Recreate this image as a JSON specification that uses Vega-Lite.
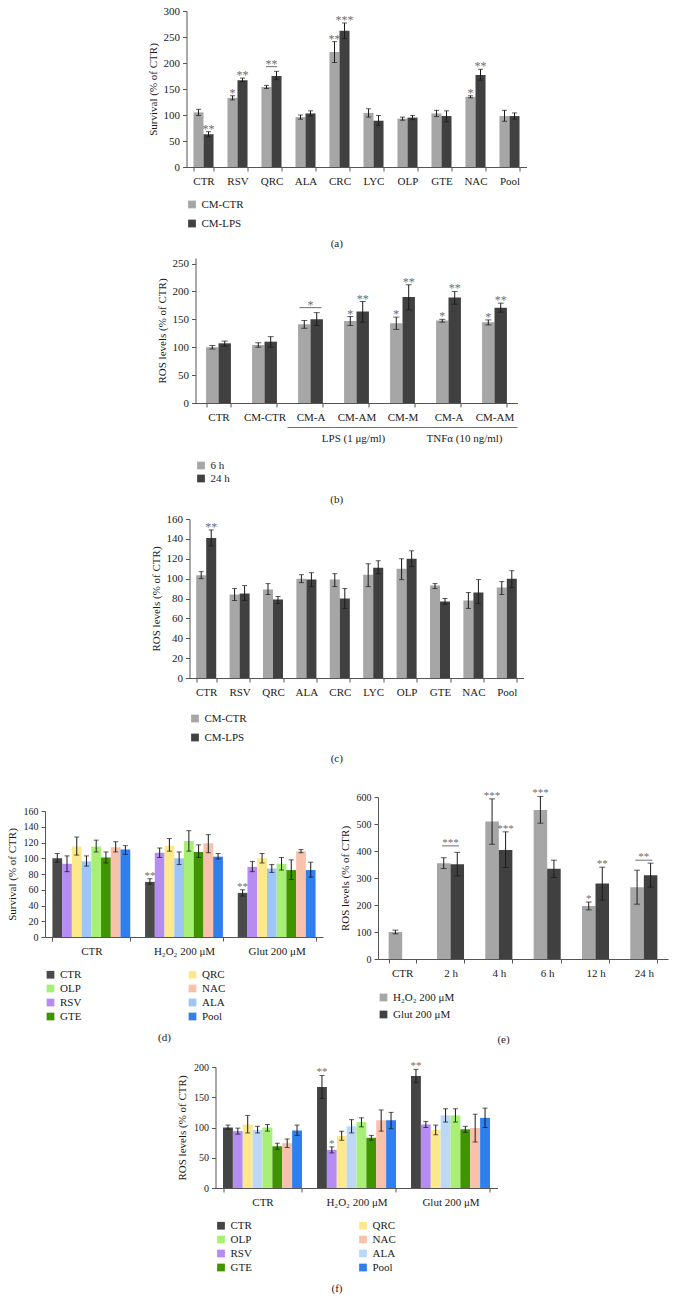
{
  "$schema": "https://vega.github.io/schema/vega-lite/v6.json",
  "background": "white",
  "padding": {"left": 6, "top": 5, "right": 2, "bottom": 2},
  "config": {
    "font": "Liberation Serif",
    "view": {"stroke": null},
    "axis": {"labelFont": "Liberation Serif", "titleFont": "Liberation Serif", "labelFontSize": 11, "titleFontSize": 11, "titleFontWeight": "normal", "labelColor": "#1a1a1a", "titleColor": "#1a1a1a", "domainColor": "#555555", "tickColor": "#555555", "grid": false, "tickSize": 4, "labelPadding": 3},
    "axisX": {"labelAngle": 0, "tickBand": "extent", "labelPadding": 4},
    "legend": {"labelFont": "Liberation Serif", "labelFontSize": 11, "labelColor": "#1a1a1a", "symbolType": "square", "symbolSize": 60, "symbolStrokeWidth": 0, "padding": 0},
    "title": {"font": "Liberation Serif", "fontSize": 11, "fontWeight": "normal", "color": "#1a1a1a", "orient": "bottom", "anchor": "middle", "frame": "bounds"}
  },
  "datasets": {
    "a": [
      {"g": "CTR", "s": "CM-CTR", "v": 105, "lo": 99, "hi": 111, "sig": ""},
      {"g": "CTR", "s": "CM-LPS", "v": 63, "lo": 58, "hi": 68, "sig": "**"},
      {"g": "RSV", "s": "CM-CTR", "v": 133, "lo": 129, "hi": 137, "sig": "*"},
      {"g": "RSV", "s": "CM-LPS", "v": 167, "lo": 164, "hi": 171, "sig": "**"},
      {"g": "QRC", "s": "CM-CTR", "v": 154, "lo": 151, "hi": 157, "sig": ""},
      {"g": "QRC", "s": "CM-LPS", "v": 175, "lo": 168, "hi": 184, "sig": ""},
      {"g": "ALA", "s": "CM-CTR", "v": 96, "lo": 92, "hi": 100, "sig": ""},
      {"g": "ALA", "s": "CM-LPS", "v": 103, "lo": 98, "hi": 108, "sig": ""},
      {"g": "CRC", "s": "CM-CTR", "v": 221, "lo": 201, "hi": 241, "sig": "**"},
      {"g": "CRC", "s": "CM-LPS", "v": 262, "lo": 247, "hi": 277, "sig": "***"},
      {"g": "LYC", "s": "CM-CTR", "v": 104, "lo": 96, "hi": 112, "sig": ""},
      {"g": "LYC", "s": "CM-LPS", "v": 89, "lo": 80, "hi": 99, "sig": ""},
      {"g": "OLP", "s": "CM-CTR", "v": 93, "lo": 90, "hi": 96, "sig": ""},
      {"g": "OLP", "s": "CM-LPS", "v": 95, "lo": 91, "hi": 99, "sig": ""},
      {"g": "GTE", "s": "CM-CTR", "v": 103, "lo": 97, "hi": 109, "sig": ""},
      {"g": "GTE", "s": "CM-LPS", "v": 98, "lo": 87, "hi": 108, "sig": ""},
      {"g": "NAC", "s": "CM-CTR", "v": 135, "lo": 133, "hi": 137, "sig": "*"},
      {"g": "NAC", "s": "CM-LPS", "v": 177, "lo": 167, "hi": 188, "sig": "**"},
      {"g": "Pool", "s": "CM-CTR", "v": 98, "lo": 88, "hi": 109, "sig": ""},
      {"g": "Pool", "s": "CM-LPS", "v": 98, "lo": 92, "hi": 104, "sig": ""}
    ],
    "a_lines": [{"g": "QRC", "ly": 193, "sig": "**"}],
    "b": [
      {"g": "CTR", "s": "6 h", "v": 100, "lo": 97, "hi": 103, "sig": ""},
      {"g": "CTR", "s": "24 h", "v": 107, "lo": 102, "hi": 111, "sig": ""},
      {"g": "CM-CTR", "s": "6 h", "v": 104, "lo": 100, "hi": 108, "sig": ""},
      {"g": "CM-CTR", "s": "24 h", "v": 110, "lo": 100, "hi": 119, "sig": ""},
      {"g": "CM-A|1", "s": "6 h", "v": 141, "lo": 134, "hi": 148, "sig": ""},
      {"g": "CM-A|1", "s": "24 h", "v": 150, "lo": 139, "hi": 162, "sig": ""},
      {"g": "CM-AM|1", "s": "6 h", "v": 147, "lo": 139, "hi": 155, "sig": "*"},
      {"g": "CM-AM|1", "s": "24 h", "v": 164, "lo": 145, "hi": 182, "sig": "**"},
      {"g": "CM-M|1", "s": "6 h", "v": 143, "lo": 132, "hi": 154, "sig": "*"},
      {"g": "CM-M|1", "s": "24 h", "v": 190, "lo": 167, "hi": 212, "sig": "**"},
      {"g": "CM-A|2", "s": "6 h", "v": 148, "lo": 145, "hi": 150, "sig": "*"},
      {"g": "CM-A|2", "s": "24 h", "v": 189, "lo": 177, "hi": 200, "sig": "**"},
      {"g": "CM-AM|2", "s": "6 h", "v": 145, "lo": 140, "hi": 149, "sig": "*"},
      {"g": "CM-AM|2", "s": "24 h", "v": 171, "lo": 163, "hi": 179, "sig": "**"}
    ],
    "b_lines": [{"g": "CM-A|1", "ly": 171, "sig": "*"}],
    "b_grp": [{"g": "CM-A|1"}, {"g": "CM-AM|1"}, {"g": "CM-M|1"}, {"g": "CM-A|2"}, {"g": "CM-AM|2"}],
    "b_lab": [{"g": "CM-AM|1", "lab": "LPS (1 μg/ml)"}, {"g": "CM-A|2", "lab": "TNFα (10 ng/ml)"}],
    "c": [
      {"g": "CTR", "s": "CM-CTR", "v": 103.5, "lo": 100, "hi": 107, "sig": ""},
      {"g": "CTR", "s": "CM-LPS", "v": 141, "lo": 133, "hi": 149, "sig": "**"},
      {"g": "RSV", "s": "CM-CTR", "v": 84, "lo": 78, "hi": 90, "sig": ""},
      {"g": "RSV", "s": "CM-LPS", "v": 85, "lo": 78, "hi": 93, "sig": ""},
      {"g": "QRC", "s": "CM-CTR", "v": 89, "lo": 84, "hi": 95, "sig": ""},
      {"g": "QRC", "s": "CM-LPS", "v": 79, "lo": 75, "hi": 82, "sig": ""},
      {"g": "ALA", "s": "CM-CTR", "v": 100, "lo": 96, "hi": 104, "sig": ""},
      {"g": "ALA", "s": "CM-LPS", "v": 99, "lo": 92, "hi": 106, "sig": ""},
      {"g": "CRC", "s": "CM-CTR", "v": 99, "lo": 92, "hi": 105, "sig": ""},
      {"g": "CRC", "s": "CM-LPS", "v": 80, "lo": 70, "hi": 90, "sig": ""},
      {"g": "LYC", "s": "CM-CTR", "v": 104, "lo": 92, "hi": 115, "sig": ""},
      {"g": "LYC", "s": "CM-LPS", "v": 111, "lo": 105, "hi": 118, "sig": ""},
      {"g": "OLP", "s": "CM-CTR", "v": 110, "lo": 99, "hi": 120, "sig": ""},
      {"g": "OLP", "s": "CM-LPS", "v": 120, "lo": 112, "hi": 128, "sig": ""},
      {"g": "GTE", "s": "CM-CTR", "v": 93, "lo": 90, "hi": 95, "sig": ""},
      {"g": "GTE", "s": "CM-LPS", "v": 77, "lo": 74, "hi": 80, "sig": ""},
      {"g": "NAC", "s": "CM-CTR", "v": 78, "lo": 70, "hi": 86, "sig": ""},
      {"g": "NAC", "s": "CM-LPS", "v": 86, "lo": 75, "hi": 99, "sig": ""},
      {"g": "Pool", "s": "CM-CTR", "v": 91, "lo": 84, "hi": 97, "sig": ""},
      {"g": "Pool", "s": "CM-LPS", "v": 100, "lo": 91, "hi": 108, "sig": ""}
    ],
    "d": [
      {"g": "CTR", "s": "CTR", "v": 100, "lo": 95, "hi": 106, "sig": ""},
      {"g": "CTR", "s": "RSV", "v": 93, "lo": 83, "hi": 103, "sig": ""},
      {"g": "CTR", "s": "QRC", "v": 115, "lo": 104, "hi": 127, "sig": ""},
      {"g": "CTR", "s": "ALA", "v": 96, "lo": 90, "hi": 103, "sig": ""},
      {"g": "CTR", "s": "OLP", "v": 115, "lo": 108, "hi": 123, "sig": ""},
      {"g": "CTR", "s": "GTE", "v": 101, "lo": 94, "hi": 108, "sig": ""},
      {"g": "CTR", "s": "NAC", "v": 114, "lo": 108, "hi": 121, "sig": ""},
      {"g": "CTR", "s": "Pool", "v": 111, "lo": 105, "hi": 116, "sig": ""},
      {"g": "H₂O₂ 200 μM", "s": "CTR", "v": 70, "lo": 67, "hi": 74, "sig": "**"},
      {"g": "H₂O₂ 200 μM", "s": "RSV", "v": 107, "lo": 101, "hi": 113, "sig": ""},
      {"g": "H₂O₂ 200 μM", "s": "QRC", "v": 116, "lo": 109, "hi": 125, "sig": ""},
      {"g": "H₂O₂ 200 μM", "s": "ALA", "v": 100, "lo": 92, "hi": 108, "sig": ""},
      {"g": "H₂O₂ 200 μM", "s": "OLP", "v": 122, "lo": 109, "hi": 135, "sig": ""},
      {"g": "H₂O₂ 200 μM", "s": "GTE", "v": 108, "lo": 101, "hi": 117, "sig": ""},
      {"g": "H₂O₂ 200 μM", "s": "NAC", "v": 119, "lo": 107, "hi": 130, "sig": ""},
      {"g": "H₂O₂ 200 μM", "s": "Pool", "v": 102, "lo": 99, "hi": 106, "sig": ""},
      {"g": "Glut 200 μM", "s": "CTR", "v": 56, "lo": 52, "hi": 60, "sig": "**"},
      {"g": "Glut 200 μM", "s": "RSV", "v": 89, "lo": 83, "hi": 96, "sig": ""},
      {"g": "Glut 200 μM", "s": "QRC", "v": 100, "lo": 94, "hi": 106, "sig": ""},
      {"g": "Glut 200 μM", "s": "ALA", "v": 87, "lo": 82, "hi": 92, "sig": ""},
      {"g": "Glut 200 μM", "s": "OLP", "v": 93, "lo": 85, "hi": 101, "sig": ""},
      {"g": "Glut 200 μM", "s": "GTE", "v": 85, "lo": 73, "hi": 98, "sig": ""},
      {"g": "Glut 200 μM", "s": "NAC", "v": 109, "lo": 107, "hi": 111, "sig": ""},
      {"g": "Glut 200 μM", "s": "Pool", "v": 85, "lo": 76, "hi": 95, "sig": ""}
    ],
    "e": [
      {"g": "CTR", "s": "H₂O₂ 200 μM", "v": 100, "lo": 93, "hi": 107, "sig": ""},
      {"g": "2 h", "s": "H₂O₂ 200 μM", "v": 355, "lo": 335, "hi": 375, "sig": ""},
      {"g": "2 h", "s": "Glut 200 μM", "v": 351, "lo": 308, "hi": 395, "sig": ""},
      {"g": "4 h", "s": "H₂O₂ 200 μM", "v": 509, "lo": 425, "hi": 593, "sig": "***"},
      {"g": "4 h", "s": "Glut 200 μM", "v": 404, "lo": 339, "hi": 471, "sig": "***"},
      {"g": "6 h", "s": "H₂O₂ 200 μM", "v": 552, "lo": 503, "hi": 602, "sig": "***"},
      {"g": "6 h", "s": "Glut 200 μM", "v": 334, "lo": 302, "hi": 366, "sig": ""},
      {"g": "12 h", "s": "H₂O₂ 200 μM", "v": 196, "lo": 182, "hi": 211, "sig": "*"},
      {"g": "12 h", "s": "Glut 200 μM", "v": 280, "lo": 218, "hi": 340, "sig": "**"},
      {"g": "24 h", "s": "H₂O₂ 200 μM", "v": 266, "lo": 203, "hi": 329, "sig": ""},
      {"g": "24 h", "s": "Glut 200 μM", "v": 310, "lo": 266, "hi": 355, "sig": ""}
    ],
    "e_lines": [{"g": "2 h", "ly": 419, "sig": "***"}, {"g": "24 h", "ly": 366, "sig": "**"}],
    "f": [
      {"g": "CTR", "s": "CTR", "v": 100, "lo": 97, "hi": 104, "sig": ""},
      {"g": "CTR", "s": "RSV", "v": 94, "lo": 89, "hi": 99, "sig": ""},
      {"g": "CTR", "s": "QRC", "v": 105, "lo": 91, "hi": 120, "sig": ""},
      {"g": "CTR", "s": "ALA", "v": 96, "lo": 91, "hi": 102, "sig": ""},
      {"g": "CTR", "s": "OLP", "v": 100, "lo": 94, "hi": 105, "sig": ""},
      {"g": "CTR", "s": "GTE", "v": 69, "lo": 64, "hi": 74, "sig": ""},
      {"g": "CTR", "s": "NAC", "v": 74, "lo": 67, "hi": 81, "sig": ""},
      {"g": "CTR", "s": "Pool", "v": 95, "lo": 87, "hi": 104, "sig": ""},
      {"g": "H₂O₂ 200 μM", "s": "CTR", "v": 167, "lo": 148, "hi": 186, "sig": "**"},
      {"g": "H₂O₂ 200 μM", "s": "RSV", "v": 63, "lo": 58, "hi": 68, "sig": "*"},
      {"g": "H₂O₂ 200 μM", "s": "QRC", "v": 86, "lo": 79, "hi": 94, "sig": ""},
      {"g": "H₂O₂ 200 μM", "s": "ALA", "v": 102, "lo": 91, "hi": 113, "sig": ""},
      {"g": "H₂O₂ 200 μM", "s": "OLP", "v": 109, "lo": 101, "hi": 116, "sig": ""},
      {"g": "H₂O₂ 200 μM", "s": "GTE", "v": 83, "lo": 79, "hi": 87, "sig": ""},
      {"g": "H₂O₂ 200 μM", "s": "NAC", "v": 112, "lo": 94, "hi": 129, "sig": ""},
      {"g": "H₂O₂ 200 μM", "s": "Pool", "v": 112, "lo": 98, "hi": 125, "sig": ""},
      {"g": "Glut 200 μM", "s": "CTR", "v": 185, "lo": 174, "hi": 196, "sig": "**"},
      {"g": "Glut 200 μM", "s": "RSV", "v": 105, "lo": 100, "hi": 110, "sig": ""},
      {"g": "Glut 200 μM", "s": "QRC", "v": 96, "lo": 88, "hi": 104, "sig": ""},
      {"g": "Glut 200 μM", "s": "ALA", "v": 120, "lo": 109, "hi": 131, "sig": ""},
      {"g": "Glut 200 μM", "s": "OLP", "v": 120, "lo": 109, "hi": 131, "sig": ""},
      {"g": "Glut 200 μM", "s": "GTE", "v": 97, "lo": 92, "hi": 102, "sig": ""},
      {"g": "Glut 200 μM", "s": "NAC", "v": 99, "lo": 76, "hi": 122, "sig": ""},
      {"g": "Glut 200 μM", "s": "Pool", "v": 116, "lo": 100, "hi": 132, "sig": ""}
    ]
  },
  "resolve": {"scale": {"color": "independent", "xOffset": "independent"}},
  "vconcat": [
    {
      "resolve": {"scale": {"color": "independent", "xOffset": "independent"}},
      "vconcat": [
        {
          "resolve": {"scale": {"color": "independent", "xOffset": "independent"}},
          "vconcat": [
            {
              "width": 340, "height": 156,
              "title": {"text": "(a)", "offset": 9},
              "data": {"name": "a"},
              "layer": [
                {"mark": {"type": "bar"}, "encoding": {
                  "x": {"field": "g", "type": "nominal", "title": null, "scale": {"domain": ["CTR","RSV","QRC","ALA","CRC","LYC","OLP","GTE","NAC","Pool"], "paddingInner": 0.41, "paddingOuter": 0.205}},
                  "xOffset": {"field": "s", "type": "nominal", "scale": {"domain": ["CM-CTR","CM-LPS"], "paddingInner": 0, "paddingOuter": 0}},
                  "y": {"field": "v", "type": "quantitative", "title": "Survival (% of CTR)", "scale": {"domain": [0, 300]}, "axis": {"values": [0,50,100,150,200,250,300], "titlePadding": 5}},
                  "color": {"field": "s", "type": "nominal", "scale": {"domain": ["CM-CTR","CM-LPS"], "range": ["#a6a6a6","#404040"]}, "legend": {"title": null, "orient": "bottom", "direction": "vertical", "offset": 13, "rowPadding": 7}}
                }},
                {"mark": {"type": "rule", "color": "#1a1a1a"}, "encoding": {
                  "x": {"field": "g", "type": "nominal", "title": null},
                  "xOffset": {"field": "s", "type": "nominal"},
                  "y": {"field": "lo", "type": "quantitative", "title": "Survival (% of CTR)", "axis": {"values": [0,50,100,150,200,250,300], "titlePadding": 5}}, "y2": {"field": "hi"}
                }},
                {"mark": {"type": "tick", "color": "#1a1a1a", "size": 5, "thickness": 1}, "encoding": {
                  "x": {"field": "g", "type": "nominal", "title": null},
                  "xOffset": {"field": "s", "type": "nominal"},
                  "y": {"field": "lo", "type": "quantitative", "title": "Survival (% of CTR)", "axis": {"values": [0,50,100,150,200,250,300], "titlePadding": 5}}
                }},
                {"mark": {"type": "tick", "color": "#1a1a1a", "size": 5, "thickness": 1}, "encoding": {
                  "x": {"field": "g", "type": "nominal", "title": null},
                  "xOffset": {"field": "s", "type": "nominal"},
                  "y": {"field": "hi", "type": "quantitative", "title": "Survival (% of CTR)", "axis": {"values": [0,50,100,150,200,250,300], "titlePadding": 5}}
                }},
                {"mark": {"type": "text", "color": "#6e6e6e", "fontSize": 12, "baseline": "alphabetic", "dy": 1}, "encoding": {
                  "x": {"field": "g", "type": "nominal", "title": null},
                  "xOffset": {"field": "s", "type": "nominal"},
                  "y": {"field": "hi", "type": "quantitative", "title": "Survival (% of CTR)", "axis": {"values": [0,50,100,150,200,250,300], "titlePadding": 5}},
                  "text": {"field": "sig", "type": "nominal"}
                }},
                {"data": {"name": "a_lines"}, "mark": {"type": "tick", "color": "#333333", "size": 11, "thickness": 1}, "encoding": {
                  "x": {"field": "g", "type": "nominal", "title": null},
                  "y": {"field": "ly", "type": "quantitative", "title": "Survival (% of CTR)", "axis": {"values": [0,50,100,150,200,250,300], "titlePadding": 5}}
                }},
                {"data": {"name": "a_lines"}, "mark": {"type": "text", "color": "#6e6e6e", "fontSize": 12, "baseline": "alphabetic", "dy": 1}, "encoding": {
                  "x": {"field": "g", "type": "nominal", "title": null},
                  "y": {"field": "ly", "type": "quantitative", "title": "Survival (% of CTR)", "axis": {"values": [0,50,100,150,200,250,300], "titlePadding": 5}},
                  "text": {"field": "sig", "type": "nominal"}
                }}
              ]
            },
            {
              "width": 322, "height": 145,
              "title": {"text": "(b)", "offset": 10},
              "data": {"name": "b"},
              "layer": [
                {"mark": {"type": "bar"}, "encoding": {
                  "x": {"field": "g", "type": "nominal", "title": null, "scale": {"domain": ["CTR","CM-CTR","CM-A|1","CM-AM|1","CM-M|1","CM-A|2","CM-AM|2"], "paddingInner": 0.46, "paddingOuter": 0.23}, "axis": {"labelExpr": "split(datum.label, '|')[0]"}},
                  "xOffset": {"field": "s", "type": "nominal", "scale": {"domain": ["6 h","24 h"], "paddingInner": 0, "paddingOuter": 0}},
                  "y": {"field": "v", "type": "quantitative", "title": "ROS levels (% of CTR)", "scale": {"domain": [0, 250]}, "axis": {"values": [0,50,100,150,200,250], "titlePadding": 5}},
                  "color": {"field": "s", "type": "nominal", "scale": {"domain": ["6 h","24 h"], "range": ["#a6a6a6","#404040"]}, "legend": {"title": null, "orient": "bottom", "direction": "vertical", "offset": 38, "rowPadding": 1}}
                }},
                {"mark": {"type": "rule", "color": "#1a1a1a"}, "encoding": {
                  "x": {"field": "g", "type": "nominal", "title": null},
                  "xOffset": {"field": "s", "type": "nominal"},
                  "y": {"field": "lo", "type": "quantitative", "title": "ROS levels (% of CTR)", "axis": {"values": [0,50,100,150,200,250], "titlePadding": 5}}, "y2": {"field": "hi"}
                }},
                {"mark": {"type": "tick", "color": "#1a1a1a", "size": 6, "thickness": 1}, "encoding": {
                  "x": {"field": "g", "type": "nominal", "title": null},
                  "xOffset": {"field": "s", "type": "nominal"},
                  "y": {"field": "lo", "type": "quantitative", "title": "ROS levels (% of CTR)", "axis": {"values": [0,50,100,150,200,250], "titlePadding": 5}}
                }},
                {"mark": {"type": "tick", "color": "#1a1a1a", "size": 6, "thickness": 1}, "encoding": {
                  "x": {"field": "g", "type": "nominal", "title": null},
                  "xOffset": {"field": "s", "type": "nominal"},
                  "y": {"field": "hi", "type": "quantitative", "title": "ROS levels (% of CTR)", "axis": {"values": [0,50,100,150,200,250], "titlePadding": 5}}
                }},
                {"mark": {"type": "text", "color": "#6e6e6e", "fontSize": 12, "baseline": "alphabetic", "dy": 1}, "encoding": {
                  "x": {"field": "g", "type": "nominal", "title": null},
                  "xOffset": {"field": "s", "type": "nominal"},
                  "y": {"field": "hi", "type": "quantitative", "title": "ROS levels (% of CTR)", "axis": {"values": [0,50,100,150,200,250], "titlePadding": 5}},
                  "text": {"field": "sig", "type": "nominal"}
                }},
                {"data": {"name": "b_lines"}, "mark": {"type": "tick", "color": "#333333", "size": 22, "thickness": 1}, "encoding": {
                  "x": {"field": "g", "type": "nominal", "title": null},
                  "y": {"field": "ly", "type": "quantitative", "title": "ROS levels (% of CTR)", "axis": {"values": [0,50,100,150,200,250], "titlePadding": 5}}
                }},
                {"data": {"name": "b_lines"}, "mark": {"type": "text", "color": "#6e6e6e", "fontSize": 12, "baseline": "alphabetic", "dy": 1}, "encoding": {
                  "x": {"field": "g", "type": "nominal", "title": null},
                  "y": {"field": "ly", "type": "quantitative", "title": "ROS levels (% of CTR)", "axis": {"values": [0,50,100,150,200,250], "titlePadding": 5}},
                  "text": {"field": "sig", "type": "nominal"}
                }},
                {"data": {"name": "b_grp"}, "mark": {"type": "tick", "color": "#333333", "size": 46, "thickness": 1}, "encoding": {
                  "x": {"field": "g", "type": "nominal", "title": null},
                  "y": {"datum": -44, "title": "ROS levels (% of CTR)", "axis": {"values": [0,50,100,150,200,250], "titlePadding": 5}}
                }},
                {"data": {"name": "b_lab"}, "transform": [{"filter": "datum.g == 'CM-AM|1'"}], "mark": {"type": "text", "color": "#1a1a1a", "fontSize": 11, "baseline": "middle", "dx": -3}, "encoding": {
                  "x": {"field": "g", "type": "nominal", "title": null},
                  "y": {"datum": -64, "title": "ROS levels (% of CTR)", "axis": {"values": [0,50,100,150,200,250], "titlePadding": 5}},
                  "text": {"field": "lab", "type": "nominal"}
                }},
                {"data": {"name": "b_lab"}, "transform": [{"filter": "datum.g == 'CM-A|2'"}], "mark": {"type": "text", "color": "#1a1a1a", "fontSize": 11, "baseline": "middle", "dx": 16}, "encoding": {
                  "x": {"field": "g", "type": "nominal", "title": null},
                  "y": {"datum": -64, "title": "ROS levels (% of CTR)", "axis": {"values": [0,50,100,150,200,250], "titlePadding": 5}},
                  "text": {"field": "lab", "type": "nominal"}
                }}
              ]
            },
            {
              "width": 334, "height": 159,
              "title": {"text": "(c)", "offset": 10},
              "data": {"name": "c"},
              "layer": [
                {"mark": {"type": "bar"}, "encoding": {
                  "x": {"field": "g", "type": "nominal", "title": null, "scale": {"domain": ["CTR","RSV","QRC","ALA","CRC","LYC","OLP","GTE","NAC","Pool"], "paddingInner": 0.4, "paddingOuter": 0.2}},
                  "xOffset": {"field": "s", "type": "nominal", "scale": {"domain": ["CM-CTR","CM-LPS"], "paddingInner": 0, "paddingOuter": 0}},
                  "y": {"field": "v", "type": "quantitative", "title": "ROS levels (% of CTR)", "scale": {"domain": [0, 160]}, "axis": {"values": [0,20,40,60,80,100,120,140,160], "titlePadding": 5}},
                  "color": {"field": "s", "type": "nominal", "scale": {"domain": ["CM-CTR","CM-LPS"], "range": ["#a6a6a6","#404040"]}, "legend": {"title": null, "orient": "bottom", "direction": "vertical", "offset": 16, "rowPadding": 7}}
                }},
                {"mark": {"type": "rule", "color": "#1a1a1a"}, "encoding": {
                  "x": {"field": "g", "type": "nominal", "title": null},
                  "xOffset": {"field": "s", "type": "nominal"},
                  "y": {"field": "lo", "type": "quantitative", "title": "ROS levels (% of CTR)", "axis": {"values": [0,20,40,60,80,100,120,140,160], "titlePadding": 5}}, "y2": {"field": "hi"}
                }},
                {"mark": {"type": "tick", "color": "#1a1a1a", "size": 5, "thickness": 1}, "encoding": {
                  "x": {"field": "g", "type": "nominal", "title": null},
                  "xOffset": {"field": "s", "type": "nominal"},
                  "y": {"field": "lo", "type": "quantitative", "title": "ROS levels (% of CTR)", "axis": {"values": [0,20,40,60,80,100,120,140,160], "titlePadding": 5}}
                }},
                {"mark": {"type": "tick", "color": "#1a1a1a", "size": 5, "thickness": 1}, "encoding": {
                  "x": {"field": "g", "type": "nominal", "title": null},
                  "xOffset": {"field": "s", "type": "nominal"},
                  "y": {"field": "hi", "type": "quantitative", "title": "ROS levels (% of CTR)", "axis": {"values": [0,20,40,60,80,100,120,140,160], "titlePadding": 5}}
                }},
                {"mark": {"type": "text", "color": "#6e6e6e", "fontSize": 12, "baseline": "alphabetic", "dy": 1}, "encoding": {
                  "x": {"field": "g", "type": "nominal", "title": null},
                  "xOffset": {"field": "s", "type": "nominal"},
                  "y": {"field": "hi", "type": "quantitative", "title": "ROS levels (% of CTR)", "axis": {"values": [0,20,40,60,80,100,120,140,160], "titlePadding": 5}},
                  "text": {"field": "sig", "type": "nominal"}
                }}
              ]
            }
          ],
          "spacing": 8,
          "center": true
        },
        {
          "resolve": {"scale": {"color": "independent", "xOffset": "independent"}},
          "hconcat": [
            {
              "width": 278, "height": 140,
              "title": {"text": "(d)", "offset": 10},
              "data": {"name": "d"},
              "layer": [
                {"mark": {"type": "bar"}, "encoding": {
                  "x": {"field": "g", "type": "nominal", "title": null, "scale": {"domain": ["CTR","H₂O₂ 200 μM","Glut 200 μM"], "paddingInner": 0.16, "paddingOuter": 0.08}},
                  "xOffset": {"field": "s", "type": "nominal", "scale": {"domain": ["CTR","RSV","QRC","ALA","OLP","GTE","NAC","Pool"], "paddingInner": 0, "paddingOuter": 0}},
                  "y": {"field": "v", "type": "quantitative", "title": "Survival (% of CTR)", "scale": {"domain": [0, 160], "range": [140, 14]}, "axis": {"values": [0,20,40,60,80,100,120,140,160], "titlePadding": 6, "labelFontSize": 10}},
                  "color": {"field": "s", "type": "nominal", "scale": {"domain": ["CTR","QRC","OLP","NAC","RSV","ALA","GTE","Pool"], "range": ["#4a4a4a","#fde98b","#a8f075","#f8c1ac","#b48cf2","#9ec5f8","#3f9400","#2f7fee"]}, "legend": {"title": null, "orient": "bottom", "columns": 2, "columnPadding": 105, "offset": 13, "rowPadding": 2}}
                }},
                {"mark": {"type": "rule", "color": "#1a1a1a"}, "encoding": {
                  "x": {"field": "g", "type": "nominal", "title": null},
                  "xOffset": {"field": "s", "type": "nominal"},
                  "y": {"field": "lo", "type": "quantitative", "title": "Survival (% of CTR)", "axis": {"values": [0,20,40,60,80,100,120,140,160], "titlePadding": 6, "labelFontSize": 10}}, "y2": {"field": "hi"}
                }},
                {"mark": {"type": "tick", "color": "#1a1a1a", "size": 5, "thickness": 1}, "encoding": {
                  "x": {"field": "g", "type": "nominal", "title": null},
                  "xOffset": {"field": "s", "type": "nominal"},
                  "y": {"field": "lo", "type": "quantitative", "title": "Survival (% of CTR)", "axis": {"values": [0,20,40,60,80,100,120,140,160], "titlePadding": 6, "labelFontSize": 10}}
                }},
                {"mark": {"type": "tick", "color": "#1a1a1a", "size": 5, "thickness": 1}, "encoding": {
                  "x": {"field": "g", "type": "nominal", "title": null},
                  "xOffset": {"field": "s", "type": "nominal"},
                  "y": {"field": "hi", "type": "quantitative", "title": "Survival (% of CTR)", "axis": {"values": [0,20,40,60,80,100,120,140,160], "titlePadding": 6, "labelFontSize": 10}}
                }},
                {"mark": {"type": "text", "color": "#6e6e6e", "fontSize": 11, "baseline": "alphabetic", "dy": 0}, "encoding": {
                  "x": {"field": "g", "type": "nominal", "title": null},
                  "xOffset": {"field": "s", "type": "nominal"},
                  "y": {"field": "hi", "type": "quantitative", "title": "Survival (% of CTR)", "axis": {"values": [0,20,40,60,80,100,120,140,160], "titlePadding": 6, "labelFontSize": 10}},
                  "text": {"field": "sig", "type": "nominal"}
                }}
              ]
            },
            {
              "width": 290, "height": 162,
              "title": {"text": "(e)", "offset": 14},
              "data": {"name": "e"},
              "layer": [
                {"mark": {"type": "bar"}, "encoding": {
                  "x": {"field": "g", "type": "nominal", "title": null, "scale": {"domain": ["CTR","2 h","4 h","6 h","12 h","24 h"], "paddingInner": 0.44, "paddingOuter": 0.22}},
                  "xOffset": {"field": "s", "type": "nominal", "scale": {"domain": ["H₂O₂ 200 μM","Glut 200 μM"], "paddingInner": 0, "paddingOuter": 0}},
                  "y": {"field": "v", "type": "quantitative", "title": "ROS levels (% of CTR)", "scale": {"domain": [0, 600]}, "axis": {"values": [0,100,200,300,400,500,600], "titlePadding": 6, "labelFontSize": 10}},
                  "color": {"field": "s", "type": "nominal", "scale": {"domain": ["H₂O₂ 200 μM","Glut 200 μM"], "range": ["#a6a6a6","#404040"]}, "legend": {"title": null, "orient": "bottom", "direction": "vertical", "offset": 14, "rowPadding": 5}}
                }},
                {"mark": {"type": "rule", "color": "#1a1a1a"}, "encoding": {
                  "x": {"field": "g", "type": "nominal", "title": null},
                  "xOffset": {"field": "s", "type": "nominal"},
                  "y": {"field": "lo", "type": "quantitative", "title": "ROS levels (% of CTR)", "axis": {"values": [0,100,200,300,400,500,600], "titlePadding": 6, "labelFontSize": 10}}, "y2": {"field": "hi"}
                }},
                {"mark": {"type": "tick", "color": "#1a1a1a", "size": 6, "thickness": 1}, "encoding": {
                  "x": {"field": "g", "type": "nominal", "title": null},
                  "xOffset": {"field": "s", "type": "nominal"},
                  "y": {"field": "lo", "type": "quantitative", "title": "ROS levels (% of CTR)", "axis": {"values": [0,100,200,300,400,500,600], "titlePadding": 6, "labelFontSize": 10}}
                }},
                {"mark": {"type": "tick", "color": "#1a1a1a", "size": 6, "thickness": 1}, "encoding": {
                  "x": {"field": "g", "type": "nominal", "title": null},
                  "xOffset": {"field": "s", "type": "nominal"},
                  "y": {"field": "hi", "type": "quantitative", "title": "ROS levels (% of CTR)", "axis": {"values": [0,100,200,300,400,500,600], "titlePadding": 6, "labelFontSize": 10}}
                }},
                {"mark": {"type": "text", "color": "#6e6e6e", "fontSize": 11, "baseline": "alphabetic", "dy": 0}, "encoding": {
                  "x": {"field": "g", "type": "nominal", "title": null},
                  "xOffset": {"field": "s", "type": "nominal"},
                  "y": {"field": "hi", "type": "quantitative", "title": "ROS levels (% of CTR)", "axis": {"values": [0,100,200,300,400,500,600], "titlePadding": 6, "labelFontSize": 10}},
                  "text": {"field": "sig", "type": "nominal"}
                }},
                {"data": {"name": "e_lines"}, "mark": {"type": "tick", "color": "#333333", "size": 17, "thickness": 1}, "encoding": {
                  "x": {"field": "g", "type": "nominal", "title": null},
                  "y": {"field": "ly", "type": "quantitative", "title": "ROS levels (% of CTR)", "axis": {"values": [0,100,200,300,400,500,600], "titlePadding": 6, "labelFontSize": 10}}
                }},
                {"data": {"name": "e_lines"}, "mark": {"type": "text", "color": "#6e6e6e", "fontSize": 11, "baseline": "alphabetic", "dy": 0}, "encoding": {
                  "x": {"field": "g", "type": "nominal", "title": null},
                  "y": {"field": "ly", "type": "quantitative", "title": "ROS levels (% of CTR)", "axis": {"values": [0,100,200,300,400,500,600], "titlePadding": 6, "labelFontSize": 10}},
                  "text": {"field": "sig", "type": "nominal"}
                }}
              ]
            }
          ],
          "spacing": 16
        }
      ],
      "spacing": 23,
      "center": true
    },
    {
      "width": 282, "height": 121,
      "title": {"text": "(f)", "offset": 10},
      "data": {"name": "f"},
      "layer": [
        {"mark": {"type": "bar"}, "encoding": {
          "x": {"field": "g", "type": "nominal", "title": null, "scale": {"domain": ["CTR","H₂O₂ 200 μM","Glut 200 μM"], "paddingInner": 0.16, "paddingOuter": 0.08}},
          "xOffset": {"field": "s", "type": "nominal", "scale": {"domain": ["CTR","RSV","QRC","ALA","OLP","GTE","NAC","Pool"], "paddingInner": 0, "paddingOuter": 0}},
          "y": {"field": "v", "type": "quantitative", "title": "ROS levels (% of CTR)", "scale": {"domain": [0, 200]}, "axis": {"values": [0,50,100,150,200], "titlePadding": 6, "labelFontSize": 10}},
          "color": {"field": "s", "type": "nominal", "scale": {"domain": ["CTR","QRC","OLP","NAC","RSV","ALA","GTE","Pool"], "range": ["#444444","#fde98b","#a8f075","#f8c1ac","#b48cf2","#bcd8f6","#3f9400","#2f7fee"]}, "legend": {"title": null, "orient": "bottom", "columns": 2, "columnPadding": 105, "offset": 13, "rowPadding": 2}}
        }},
        {"mark": {"type": "rule", "color": "#1a1a1a"}, "encoding": {
          "x": {"field": "g", "type": "nominal", "title": null},
          "xOffset": {"field": "s", "type": "nominal"},
          "y": {"field": "lo", "type": "quantitative", "title": "ROS levels (% of CTR)", "axis": {"values": [0,50,100,150,200], "titlePadding": 6, "labelFontSize": 10}}, "y2": {"field": "hi"}
        }},
        {"mark": {"type": "tick", "color": "#1a1a1a", "size": 5, "thickness": 1}, "encoding": {
          "x": {"field": "g", "type": "nominal", "title": null},
          "xOffset": {"field": "s", "type": "nominal"},
          "y": {"field": "lo", "type": "quantitative", "title": "ROS levels (% of CTR)", "axis": {"values": [0,50,100,150,200], "titlePadding": 6, "labelFontSize": 10}}
        }},
        {"mark": {"type": "tick", "color": "#1a1a1a", "size": 5, "thickness": 1}, "encoding": {
          "x": {"field": "g", "type": "nominal", "title": null},
          "xOffset": {"field": "s", "type": "nominal"},
          "y": {"field": "hi", "type": "quantitative", "title": "ROS levels (% of CTR)", "axis": {"values": [0,50,100,150,200], "titlePadding": 6, "labelFontSize": 10}}
        }},
        {"mark": {"type": "text", "color": "#6e6e6e", "fontSize": 11, "baseline": "alphabetic", "dy": 0}, "encoding": {
          "x": {"field": "g", "type": "nominal", "title": null},
          "xOffset": {"field": "s", "type": "nominal"},
          "y": {"field": "hi", "type": "quantitative", "title": "ROS levels (% of CTR)", "axis": {"values": [0,50,100,150,200], "titlePadding": 6, "labelFontSize": 10}},
          "text": {"field": "sig", "type": "nominal"}
        }}
      ]
    }
  ],
  "spacing": 15,
  "center": true
}
